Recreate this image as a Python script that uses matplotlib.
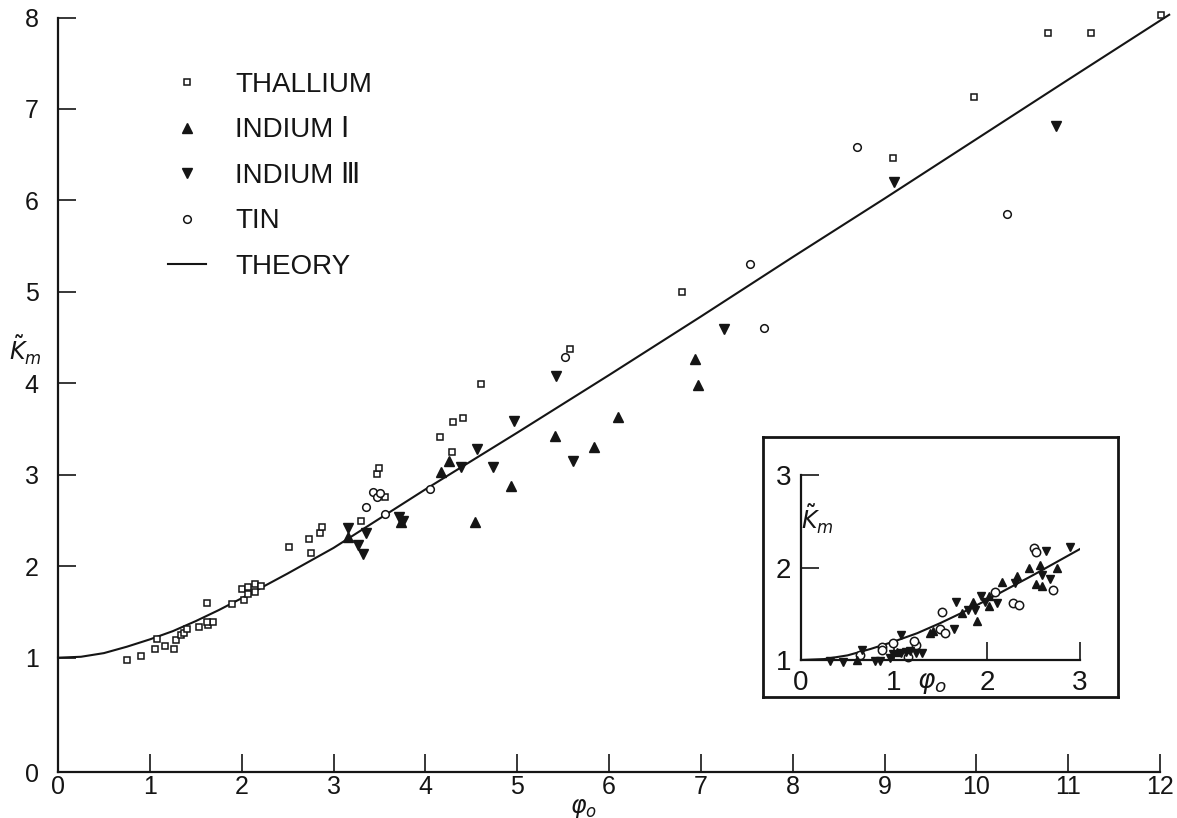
import matplotlib
matplotlib.use("Agg")
import matplotlib.pyplot as plt
from matplotlib.lines import Line2D

plt.rcParams['font.family'] = ['Liberation Sans', 'DejaVu Sans']
ink = '#151515'

# theory curve
th_x = [0, 0.25, 0.5, 0.75, 1, 1.25, 1.5, 1.75, 2, 2.5, 3, 3.5, 4, 5, 6, 7, 8, 9, 10, 11, 12.1]
th_y = [1.0, 1.01, 1.05, 1.12, 1.2, 1.29, 1.4, 1.52, 1.65, 1.92, 2.2, 2.52, 2.84, 3.46, 4.09,
        4.73, 5.38, 6.02, 6.67, 7.32, 8.03]

# main plot data
tl_x = [0.75, 0.90, 1.06, 1.16, 1.26, 1.08, 1.29, 1.34, 1.37, 1.40, 1.54, 1.63, 1.69, 1.62, 1.62,
        1.89, 2.03, 2.00, 2.07, 2.07, 2.15, 2.15, 2.21, 2.52, 2.75, 2.73, 2.85, 2.88, 3.30, 3.47,
        3.50, 3.56, 4.16, 4.29, 4.30, 4.41, 4.61, 5.58, 6.79, 9.09, 9.97, 10.78, 11.25, 12.01]
tl_y = [0.97, 1.02, 1.09, 1.13, 1.09, 1.20, 1.19, 1.25, 1.27, 1.31, 1.34, 1.36, 1.39, 1.39, 1.60,
        1.59, 1.63, 1.75, 1.77, 1.70, 1.81, 1.72, 1.78, 2.21, 2.15, 2.30, 2.36, 2.43, 2.50, 3.01,
        3.07, 2.76, 3.41, 3.25, 3.58, 3.62, 3.99, 4.37, 5.00, 6.46, 7.13, 7.83, 7.83, 8.03]

in1_x = [3.16, 3.74, 4.17, 4.26, 4.54, 4.93, 5.41, 5.84, 6.10, 6.94, 6.97]
in1_y = [2.32, 2.48, 3.03, 3.15, 2.48, 2.88, 3.42, 3.30, 3.63, 4.27, 3.98]

in3_x = [3.16, 3.27, 3.32, 3.35, 3.71, 3.76, 4.39, 4.56, 4.74, 4.97, 5.42, 5.61, 7.25, 9.10, 10.87]
in3_y = [2.42, 2.23, 2.13, 2.36, 2.54, 2.50, 3.08, 3.28, 3.08, 3.59, 4.08, 3.15, 4.59, 6.20, 6.81]

tin_x = [3.35, 3.43, 3.47, 3.51, 3.56, 4.05, 5.52, 7.54, 7.69, 8.70, 10.33]
tin_y = [2.65, 2.81, 2.76, 2.80, 2.57, 2.84, 4.29, 5.30, 4.60, 6.58, 5.85]

# inset data (low phi region)
ins_tin_x = [2.50, 2.53, 2.71, 2.28, 2.34, 2.09, 1.52, 1.49, 1.55, 0.99, 0.87, 0.87, 0.63, 1.15, 1.24, 1.21]
ins_tin_y = [2.21, 2.17, 1.76, 1.62, 1.60, 1.74, 1.52, 1.34, 1.29, 1.18, 1.14, 1.11, 1.05, 1.03, 1.16, 1.21]
ins_in1_x = [2.45, 2.57, 2.75, 2.32, 2.16, 2.02, 2.02, 1.85, 1.89, 1.73, 1.39, 1.42, 1.03, 0.60, 2.53, 2.59]
ins_in1_y = [2.00, 2.03, 2.00, 1.91, 1.84, 1.69, 1.58, 1.63, 1.42, 1.51, 1.29, 1.31, 1.09, 1.00, 1.82, 1.80]
ins_in3_x = [2.89, 2.63, 2.59, 2.68, 2.30, 1.94, 1.98, 2.11, 1.67, 1.80, 1.87, 1.64, 1.08, 0.66, 0.31,
             0.45, 0.80, 0.85, 0.96, 0.99, 1.08, 1.13, 1.24, 1.30, 1.17]
ins_in3_y = [2.22, 2.18, 1.92, 1.88, 1.83, 1.69, 1.63, 1.62, 1.63, 1.54, 1.54, 1.34, 1.27, 1.11, 0.99,
             0.98, 0.99, 0.99, 1.02, 1.07, 1.08, 1.09, 1.08, 1.08, 1.10]

x_ticks = list(range(0, 13))
y_labels = [str(i) for i in range(0, 9)]
y_bottom = -0.25   # axis line sits a bit below 0 in the drawing

W, H = 1177, 818
fig = plt.figure(figsize=(W / 100, H / 100), dpi=100)

def fbox(x0, y0, x1, y1):
    # pixel box (top-left origin) -> figure fraction rect
    return [x0 / W, 1 - y1 / H, (x1 - x0) / W, (y1 - y0) / H]

ax = fig.add_axes(fbox(58, 17.5, 1160, 772))
ax.set_xlim(0, 12)
ax.set_ylim(y_bottom, 8)
for s in ['top', 'right']:
    ax.spines[s].set_visible(False)
for s in ['left', 'bottom']:
    ax.spines[s].set_linewidth(1.6)
    ax.spines[s].set_color(ink)
ax.set_xticks(x_ticks)
ax.set_xticklabels([str(t) for t in x_ticks])
ax.set_yticks([y_bottom] + list(range(1, 9)))
ax.set_yticklabels(y_labels)
ax.tick_params(direction='in', length=13, width=1.2, color=ink, labelsize=18, labelcolor=ink)
ax.tick_params(axis='y', pad=14)
ax.tick_params(axis='x', pad=2)

sq = dict(ls='none', marker='s', ms=4.5, mfc='white', mec=ink, mew=1.1, clip_on=False)
up = dict(ls='none', marker='^', ms=6.5, color=ink, clip_on=False)
dn = dict(ls='none', marker='v', ms=6.5, color=ink, clip_on=False)
ci = dict(ls='none', marker='o', ms=5.5, mfc='white', mec=ink, mew=1.1, clip_on=False)

ax.plot(th_x, th_y, color=ink, lw=1.5, clip_on=False, zorder=1)
ax.plot(tl_x, tl_y, **sq)
ax.plot(in1_x, in1_y, **up)
ax.plot(in3_x, in3_y, **dn)
ax.plot(tin_x, tin_y, **ci)

handles = [
    Line2D([], [], **sq),
    Line2D([], [], **up),
    Line2D([], [], **dn),
    Line2D([], [], **ci),
    Line2D([], [], color=ink, lw=1.5),
]
labels = ['THALLIUM', 'INDIUM Ⅰ', 'INDIUM Ⅲ', 'TIN', 'THEORY']
leg = fig.legend(handles, labels, loc='upper left', bbox_to_anchor=(168 / W, 1 - 72 / H),
                 frameon=False, fontsize=20, handlelength=1.37, handletextpad=1.05,
                 labelspacing=0.70, borderpad=0, borderaxespad=0, labelcolor=ink)

fig.text(25 / W, 1 - 350 / H, r'$\tilde{K}_m$', fontsize=17, color=ink, ha='center', va='center')
fig.text(583 / W, 1 - 808 / H, r'$\varphi_o$', fontsize=17, color=ink, ha='center', va='center')

# inset frame
frame = fig.add_axes(fbox(763, 437, 1118, 697))
frame.set_xticks([])
frame.set_yticks([])
frame.patch.set_alpha(0)
for s in frame.spines.values():
    s.set_linewidth(2)
    s.set_color(ink)

ins = fig.add_axes(fbox(801, 475, 1080, 660))
ins.patch.set_alpha(0)
ins.set_xlim(0, 3)
ins.set_ylim(1, 3)
for s in ['top', 'right']:
    ins.spines[s].set_visible(False)
for s in ['left', 'bottom']:
    ins.spines[s].set_linewidth(1.6)
    ins.spines[s].set_color(ink)
ins.set_xticks([0, 1, 2, 3])
ins.set_yticks([1, 2, 3])
ins.tick_params(direction='in', length=13, width=1.2, color=ink, labelsize=20, labelcolor=ink)
ins.tick_params(axis='x', pad=7)
ins.tick_params(axis='y', pad=7)

ins_th_x = [x for x in th_x if x <= 3]
ins_th_y = th_y[:len(ins_th_x)]
ins.plot(ins_th_x, ins_th_y, color=ink, lw=1.5, zorder=1)
ins.plot(ins_tin_x, ins_tin_y, **dict(ci, ms=6))
ins.plot(ins_in1_x, ins_in1_y, **dict(up, ms=5.5))
ins.plot(ins_in3_x, ins_in3_y, **dict(dn, ms=5.5))

ins.text(0.18, 2.52, r'$\tilde{K}_m$', fontsize=17, color=ink, ha='center', va='center')
fig.text(932 / W, 1 - 683 / H, r'$\varphi_o$', fontsize=19, color=ink, ha='center', va='center')

fig.savefig('out.png', dpi=100, facecolor='white')
